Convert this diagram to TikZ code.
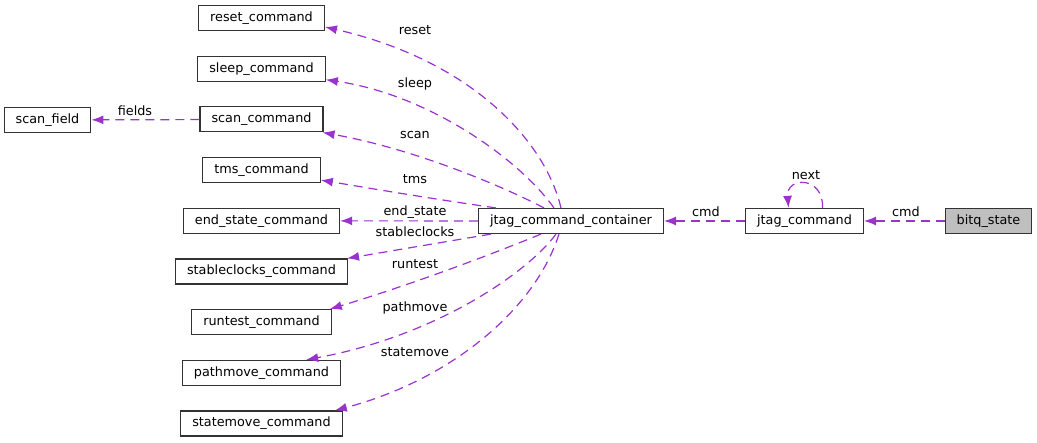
\documentclass[tikz,border=0pt]{standalone}
\usepackage{fontspec}
\setmainfont{DejaVu Sans}
\usepackage{tikz}
\usetikzlibrary{arrows.meta, positioning}
\definecolor{doxy_orchid}{HTML}{9A32CD}
\definecolor{doxy_gray}{HTML}{BFBFBF}
\tikzset{
  cls/.style={rectangle,draw=black!80,line width=1.2pt,fill=white,minimum height=25pt,inner xsep=11.5pt,inner ysep=0pt,font=\fontsize{12.8}{15}\selectfont},
  cls_cur/.style={cls,fill=doxy_gray},
  member/.style={draw=doxy_orchid,line width=1.2pt,dash pattern=on 9pt off 6pt,-{Latex[length=12pt,width=9pt]}},
  memberlbl/.style={inner sep=1pt,font=\fontsize{12.8}{15}\selectfont},
}

\begin{document}
\begin{tikzpicture}[x=1pt,y=-1pt]
	    \useasboundingbox (0,0) rectangle (1037,443);
	    % left column of member types
	    \node[cls] (reset) at (261.5,18) {reset\_command};
	    \node[cls,below=24.5pt of reset] (sleep) {sleep\_command};
	    \node[cls,below=24.5pt of sleep] (scan) {scan\_command};
	    \node[cls,below=24.5pt of scan] (tms) {tms\_command};
	    \node[cls,below=24.5pt of tms] (endst) {end\_state\_command};
	    \node[cls,below=24.5pt of endst] (stab) {stableclocks\_command};
	    \node[cls,below=24.5pt of stab] (runt) {runtest\_command};
	    \node[cls,below=24.5pt of runt] (pathm) {pathmove\_command};
	    \node[cls,below=24.5pt of pathm] (statem) {statemove\_command};
	    \node[cls] (field) at (47.5,120) {scan\_field};
	    % main row
	    \node[cls] (cont) at (571,221) {jtag\_command\_container};
	    \node[cls] (jcmd) at (804.5,221) {jtag\_command};
	    \node[cls_cur] (bitq) at (988.5,221) {bitq\_state};
	    % members
	    \draw[member] (bitq) -- (jcmd);
	    \draw[member] (jcmd) -- (cont);
	    \draw[member] ([xshift=18pt]jcmd.north) .. controls (824,176) and (786,176) .. ([xshift=-16pt]jcmd.north);
	    \draw[member] (scan) -- (field);
	    \draw[member] ([xshift=83pt]cont.north west) .. controls (545,140) and (470,60) .. ([yshift=-9pt]reset.east);
	    \draw[member] ([xshift=76pt]cont.north west) .. controls (520,160) and (430,95) .. ([yshift=-11pt]sleep.east);
	    \draw[member] ([xshift=66pt]cont.north west) .. controls (510,190) and (420,150) .. ([xshift=-1pt]scan.south east);
	    \draw[member] ([xshift=18pt]cont.north west) .. controls (440,200) and (380,190) .. ([yshift=-10pt]tms.east);
	    \draw[member] (cont) -- (endst);
	    \draw[member] ([xshift=13pt]cont.south west) -- ([xshift=-1pt]stab.north east);
	    \draw[member] ([xshift=63pt]cont.south west) .. controls (490,255) and (410,285) .. ([xshift=-2pt]runt.north east);
	    \draw[member] ([xshift=78pt]cont.south west) .. controls (530,270) and (440,335) .. ([xshift=-35pt]pathm.north east);
	    \draw[member] ([xshift=81pt]cont.south west) .. controls (535,310) and (450,380) .. ([xshift=-8pt]statem.north east);
	    % labels
	    \node[memberlbl] (l_cmd_b) at (906,212) {cmd};
	    \node[memberlbl] (l_cmd_j) at (706,212) {cmd};
	    \node[memberlbl] (l_next) at (806,175) {next};
	    \node[memberlbl] (l_fields) at (135,111) {fields};
	    \node[memberlbl] (l_reset) at (415,30) {reset};
	    \node[memberlbl] (l_sleep) at (415,84) {sleep};
	    \node[memberlbl] (l_scan) at (415,135) {scan};
	    \node[memberlbl] (l_tms) at (415,179) {tms};
	    \node[memberlbl] (l_endst) at (415,212) {end\_state};
	    \node[memberlbl] (l_stab) at (415,232) {stableclocks};
	    \node[memberlbl] (l_runt) at (415,264) {runtest};
	    \node[memberlbl] (l_pathm) at (415,308) {pathmove};
	    \node[memberlbl] (l_statem) at (415,352) {statemove};
	\end{tikzpicture}
\end{document}
